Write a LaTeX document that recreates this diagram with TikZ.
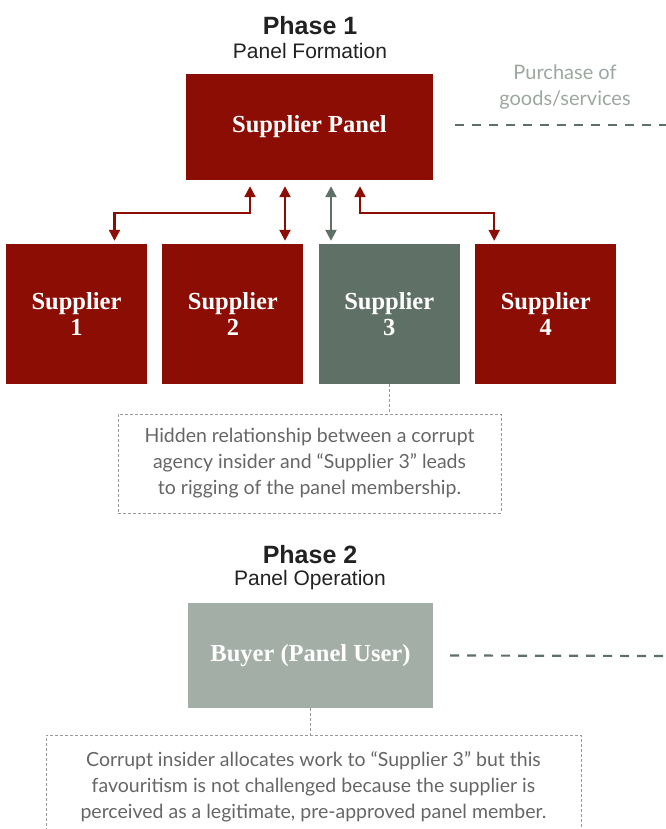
\documentclass[tikz,border=0pt]{standalone}
\usepackage{fontspec}
\setmainfont{Liberation Serif}
\newfontfamily\headfont{Liberation Sans}
\newfontfamily\notefont{Lato}
\usetikzlibrary{positioning, calc, arrows.meta}

\definecolor{panelred}{HTML}{8B0D03}
\definecolor{darksage}{HTML}{5F7066}
\definecolor{lightsage}{HTML}{A3AEA7}
\definecolor{notegray}{HTML}{666666}
\definecolor{labelgray}{HTML}{9DA7A0}
\definecolor{headgray}{HTML}{222222}

\begin{document}
\begin{tikzpicture}[
        x = 1pt, y = 1pt,
        > = {Triangle[length=11pt, width=11pt]}, % arrow head style
        node distance = 15pt, % gap between supplier boxes
        box/.style = {rectangle, fill = panelred, text = white, align = center,
            inner sep = 0pt, font = \bfseries\fontsize{24.5}{26}\selectfont},
        supplier/.style = {box, minimum width = 141pt, minimum height = 140pt},
        title/.style = {text = headgray, font = \headfont\bfseries\fontsize{25}{30}\selectfont},
        subtitle/.style = {text = headgray, font = \headfont\fontsize{21}{25}\selectfont},
        note/.style = {draw = gray!80, dash pattern = on 3pt off 2pt, line width = 0.8pt,
            text = notegray, align = center, inner sep = 0pt,
            font = \notefont\fontsize{19.5}{26}\selectfont},
        link/.style = {<->, line width = 2.2pt, draw = panelred},
        dotline/.style = {draw = gray!80, dash pattern = on 3pt off 2pt, line width = 0.8pt},
        future/.style = {draw = darksage, line width = 2.2pt, dash pattern = on 9pt off 8pt}
    ]

    \useasboundingbox (0,0) rectangle (665,-829);

    % phase 1
    \node[title] (ph1) at (310,-26) {Phase 1};
    \node[subtitle] (form) at (310,-51) {Panel Formation};
    \node[box, minimum width = 247pt, minimum height = 106pt] (panel) at (309.5,-127)
        {Supplier Panel};
    \node[text = labelgray, align = center, font = \notefont\fontsize{20}{26}\selectfont]
        (purchase) at (565,-87) {Purchase of\\goods/services};
    \coordinate (out1) at (670,-125);

    \node[supplier] (s1) at (76.5,-314) {Supplier\\1};
    \node[supplier] (s2) [right=of s1] {Supplier\\2};
    \node[supplier, fill = darksage] (s3) [right=of s2] {Supplier\\3};
    \node[supplier] (s4) [right=of s3] {Supplier\\4};

    \node[note, minimum width = 383pt, minimum height = 99pt] (note1) at (309.5,-463.5)
        {Hidden relationship between a corrupt\\agency insider and “Supplier 3” leads\\to rigging of the panel membership.};

    \draw[link] ($(panel.south)+(-59.5,-6)$) -- ++(0,-27) -| ($(s1.north)+(38,3)$);
    \draw[link] ($(panel.south)+(-24.5,-6)$) -- ($(panel.south |- s2.north)+(-24.5,3)$);
    \draw[link, draw = darksage] ($(panel.south)+(21.5,-6)$) -- ($(panel.south |- s3.north)+(21.5,3)$);
    \draw[link] ($(panel.south)+(50.5,-6)$) -- ++(0,-27) -| ($(s4.north)+(-51.5,3)$);
    \draw[future] ($(panel.east)+(22,2)$) -- (out1);
    \draw[dotline] (s3.south) -- (s3.south |- note1.north);

    % phase 2
    \node[title] (ph2) at (310,-555) {Phase 2};
    \node[subtitle] (oper) at (310,-580) {Panel Operation};
    \node[box, fill = lightsage, minimum width = 245pt, minimum height = 105pt] (buyer)
        at (310.5,-655.5) {Buyer (Panel User)};
    \coordinate (out2) at (670,-656);
    \node[note, minimum width = 535pt, minimum height = 102pt, anchor = north] (note2)
        at (313.5,-735)
        {Corrupt insider allocates work to “Supplier 3” but this\\favouritism is not challenged because the supplier is\\perceived as a legitimate, pre-approved panel member.};

    \draw[future] ($(buyer.east)+(17,0)$) -- (out2);
    \draw[dotline] (buyer.south) -- (buyer.south |- note2.north);

\end{tikzpicture}
\end{document}
